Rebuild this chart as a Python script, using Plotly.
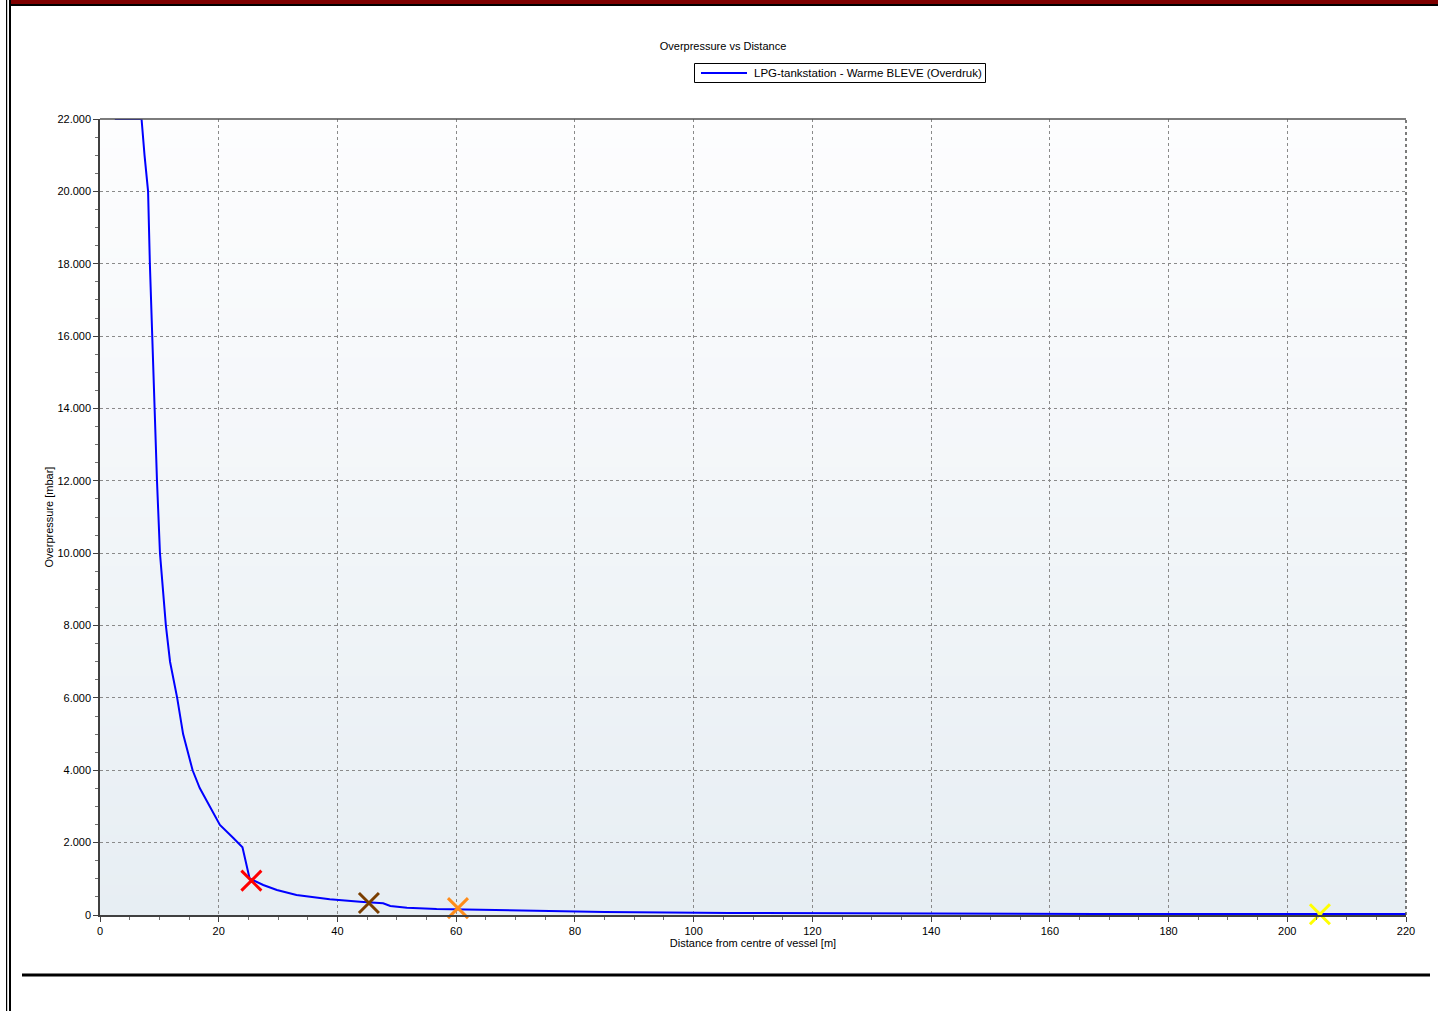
import plotly.graph_objects as go

# Overpressure profile of the warm BLEVE scenario
distance_m = [2.5, 7.0, 7.5, 8.1, 8.4, 8.8, 9.1, 9.6, 10.1, 11.1, 11.8, 13.0, 14.0,
              15.6, 16.8, 18.8, 20.2, 22.5, 24.0, 25.2, 27.5, 29.8, 33.1, 35.4,
              38.7, 43.8, 47.7, 48.9, 51.7, 56.7, 59.5, 64.6, 75.0, 85.0, 106.0,
              168.0, 220.0]
overpressure_mbar = [22000, 22000, 21000, 20000, 18000, 16000, 14000, 12000, 10000,
                     8000, 7000, 6000, 5000, 4000, 3510, 2900, 2490, 2120, 1870,
                     1010, 829, 690, 553, 506, 433, 368, 323, 249, 203, 166, 157,
                     138, 110, 83, 55, 28, 28]

# Threshold points marked on the curve
marker_dist = [25.5, 45.3, 60.3, 205.5]
marker_press = [950, 330, 190, 20]
marker_colors = ["#ff0000", "#7a3e00", "#ff8c1a", "#ffff00"]

series_name = "LPG-tankstation - Warme BLEVE (Overdruk)"
series_color = "#0000ff"
chart_title = "Overpressure vs Distance"
x_title = "Distance from centre of vessel [m]"
y_title = "Overpressure [mbar]"

W, H = 1438, 1011
ML, MR, MT, MB = 100, 32, 119, 96
PW, PH = W - ML - MR, H - MT - MB


def px(x):
    return (x - ML) / PW


def py(y):
    return (H - MB - y) / PH


FONT = "Liberation Sans"

fig = go.Figure()

fig.add_trace(go.Scatter(
    x=distance_m, y=overpressure_mbar, mode="lines", name=series_name,
    line=dict(color=series_color, width=2), showlegend=False,
))

for xd, yd, c in zip(marker_dist, marker_press, marker_colors):
    fig.add_trace(go.Scatter(
        x=[xd], y=[yd], mode="markers", showlegend=False, cliponaxis=False,
        marker=dict(symbol="x-thin", size=20, line=dict(color=c, width=3)),
    ))

shapes = []
# vertical gradient in the plotting area, white at top to pale blue-grey at bottom
n_bands = 80
top_rgb = (253, 253, 254)
bot_rgb = (231, 238, 243)
for i in range(n_bands):
    t = i / (n_bands - 1)
    r = round(bot_rgb[0] + (top_rgb[0] - bot_rgb[0]) * t)
    g = round(bot_rgb[1] + (top_rgb[1] - bot_rgb[1]) * t)
    b = round(bot_rgb[2] + (top_rgb[2] - bot_rgb[2]) * t)
    shapes.append(dict(
        type="rect", xref="x domain", yref="y domain", layer="below",
        x0=0, x1=1, y0=i / n_bands, y1=(i + 1) / n_bands + 0.002,
        fillcolor=f"rgb({r},{g},{b})", line=dict(width=0),
    ))

# plot frame: solid top edge, dashed right edge
shapes.append(dict(type="line", xref="x domain", yref="y domain", x0=0, x1=1, y0=1, y1=1,
                   line=dict(color="#505050", width=1.5)))
shapes.append(dict(type="line", xref="x domain", yref="y domain", x0=1, x1=1, y0=0, y1=1,
                   line=dict(color="#505050", width=1.5, dash="3px,3px")))

# legend box with line sample
shapes.append(dict(type="rect", xref="paper", yref="paper", x0=px(694.5), x1=px(985.5),
                   y0=py(82.5), y1=py(63.5), fillcolor="#ffffff",
                   line=dict(color="#000000", width=1)))
shapes.append(dict(type="line", xref="paper", yref="paper", x0=px(701), x1=px(747),
                   y0=py(73), y1=py(73), line=dict(color=series_color, width=2)))

# window decorations around the chart
shapes.append(dict(type="rect", xref="paper", yref="paper", x0=px(11), x1=px(W),
                   y0=py(4), y1=py(0), fillcolor="#7f0000", line=dict(width=0)))
shapes.append(dict(type="rect", xref="paper", yref="paper", x0=px(11), x1=px(W),
                   y0=py(6), y1=py(4), fillcolor="#000000", line=dict(width=0)))
shapes.append(dict(type="rect", xref="paper", yref="paper", x0=px(6), x1=px(7.2),
                   y0=py(H), y1=py(0), fillcolor="#000000", line=dict(width=0)))
shapes.append(dict(type="rect", xref="paper", yref="paper", x0=px(9), x1=px(11),
                   y0=py(H), y1=py(0), fillcolor="#000000", line=dict(width=0)))
shapes.append(dict(type="rect", xref="paper", yref="paper", x0=px(22), x1=px(1430),
                   y0=py(976.5), y1=py(973.5), fillcolor="#000000", line=dict(width=0)))

annotations = [
    dict(text=series_name, xref="paper", yref="paper", x=px(752), y=py(73),
         xanchor="left", yanchor="middle", showarrow=False,
         font=dict(family=FONT, size=11.5, color="#000000")),
]

fig.update_layout(
    width=W, height=H,
    margin=dict(l=ML, r=MR, t=MT, b=MB, autoexpand=False),
    paper_bgcolor="#ffffff", plot_bgcolor="#ffffff",
    separators=",.",
    font=dict(family=FONT, size=11, color="#000000"),
    title=dict(text=chart_title, x=px(723), xref="paper", xanchor="center",
               y=1 - 46 / H, yref="container", yanchor="middle",
               font=dict(family=FONT, size=11, color="#000000")),
    showlegend=False,
    shapes=shapes,
    annotations=annotations,
    hovermode=False,
)

fig.update_xaxes(
    range=[0, 220], dtick=20, tick0=0,
    showgrid=True, gridcolor="#8a8a8a", gridwidth=1, griddash="3px,3px",
    showline=True, linecolor="#404040", linewidth=1.5,
    ticks="outside", ticklen=5, tickcolor="#404040",
    minor=dict(dtick=5, ticks="outside", ticklen=3, tickcolor="#707070", showgrid=False),
    zeroline=False,
    tickfont=dict(family=FONT, size=11, color="#000000"),
    title=dict(text=x_title, standoff=3, font=dict(family=FONT, size=11)),
    automargin=False,
)
fig.update_yaxes(
    range=[0, 22000], dtick=2000, tick0=0, tickformat=",d",
    showgrid=True, gridcolor="#8a8a8a", gridwidth=1, griddash="3px,3px",
    showline=True, linecolor="#404040", linewidth=1.5,
    ticks="outside", ticklen=5, tickcolor="#404040",
    minor=dict(dtick=500, ticks="outside", ticklen=3, tickcolor="#707070", showgrid=False),
    zeroline=False,
    tickfont=dict(family=FONT, size=11, color="#000000"),
    title=dict(text=y_title, standoff=2, font=dict(family=FONT, size=11)),
    automargin=False,
)

fig.write_html("out.html")
